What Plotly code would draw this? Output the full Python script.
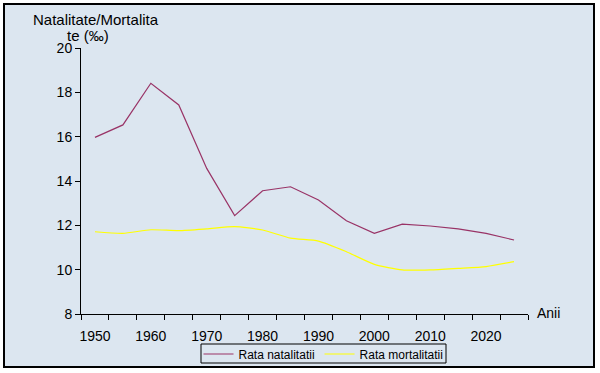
import plotly.graph_objects as go

years = [1950, 1955, 1960, 1965, 1970, 1975, 1980, 1985, 1990, 1995, 2000, 2005, 2010, 2015, 2020, 2025]
natalitate = [15.97, 16.53, 18.41, 17.43, 14.57, 12.44, 13.56, 13.74, 13.14, 12.21, 11.64, 12.05, 11.97, 11.84, 11.64, 11.34]
mortalitate = [11.71, 11.64, 11.80, 11.76, 11.84, 11.94, 11.79, 11.42, 11.29, 10.81, 10.24, 9.99, 9.99, 10.06, 10.14, 10.36]
tick_years = [1950, 1960, 1970, 1980, 1990, 2000, 2010, 2020]
y_ticks = [8, 10, 12, 14, 16, 18, 20]

BG = "#DCE6F0"
FONT = "Liberation Sans, Arial, sans-serif"

fig = go.Figure()
fig.add_trace(go.Scatter(x=years, y=natalitate, mode="lines", name="Rata natalitatii",
                         line=dict(color="#993366", width=1.2)))
fig.add_trace(go.Scatter(x=years, y=mortalitate, mode="lines", name="Rata mortalitatii",
                         line=dict(color="#FFFF00", width=1.2, shape="spline", smoothing=0.6)))

L, R, T, B = 81, 72, 48, 59
W, H = 600, 373
pw = W - L - R
ph = H - T - B

def px_x(x):
    return (x - L) / pw

def px_y(y):
    return (H - B - y) / ph

fig.update_layout(
    width=W, height=H,
    margin=dict(l=L, r=R, t=T, b=B, autoexpand=False),
    paper_bgcolor="white",
    plot_bgcolor="rgba(0,0,0,0)",
    font=dict(family=FONT, size=14, color="black"),
    showlegend=True,
    legend=dict(orientation="h", x=px_x(323.5), xanchor="center", y=px_y(339.5), yanchor="top",
                bgcolor="rgba(0,0,0,0)", borderwidth=0,
                font=dict(size=12, family=FONT), itemwidth=30, tracegroupgap=0),
    xaxis=dict(range=[1947.5, 2027.5], tickvals=tick_years, ticks="outside", ticklen=9,
               tickcolor="rgba(0,0,0,0)", showline=True, linecolor="black", linewidth=1,
               showgrid=False, zeroline=False, tickfont=dict(size=14),
               minor=dict(tick0=1947.5, dtick=5, ticks="outside", ticklen=5, tickcolor="black",
                          showgrid=False)),
    yaxis=dict(range=[8, 20], tickvals=y_ticks, ticks="outside", ticklen=5, tickcolor="black",
               showline=True, linecolor="black", linewidth=1, showgrid=False, zeroline=False,
               tickfont=dict(size=14)),
    shapes=[
        dict(type="rect", xref="paper", yref="paper", layer="below",
             x0=px_x(4), x1=px_x(594), y0=px_y(367), y1=px_y(4),
             fillcolor=BG, line=dict(color="black", width=2)),
        dict(type="rect", xref="paper", yref="paper", layer="below",
             x0=px_x(201), x1=px_x(446), y0=px_y(363), y1=px_y(344),
             fillcolor=BG, line=dict(color="black", width=1)),
    ],
    annotations=[
        dict(text="Natalitate/Mortalita", xref="paper", yref="paper", x=px_x(95.5), y=px_y(20),
             xanchor="center", yanchor="middle", showarrow=False, font=dict(size=15)),
        dict(text="te (‰)", xref="paper", yref="paper", x=px_x(88), y=px_y(36),
             xanchor="center", yanchor="middle", showarrow=False, font=dict(size=15)),
        dict(text="Anii", xref="paper", yref="paper", x=px_x(535), y=px_y(313),
             xanchor="left", yanchor="middle", showarrow=False, font=dict(size=14)),
    ],
)

fig.write_html("out.html", config={"displayModeBar": False},
               post_script="document.body.style.margin='0px';document.body.style.overflow='hidden';")
